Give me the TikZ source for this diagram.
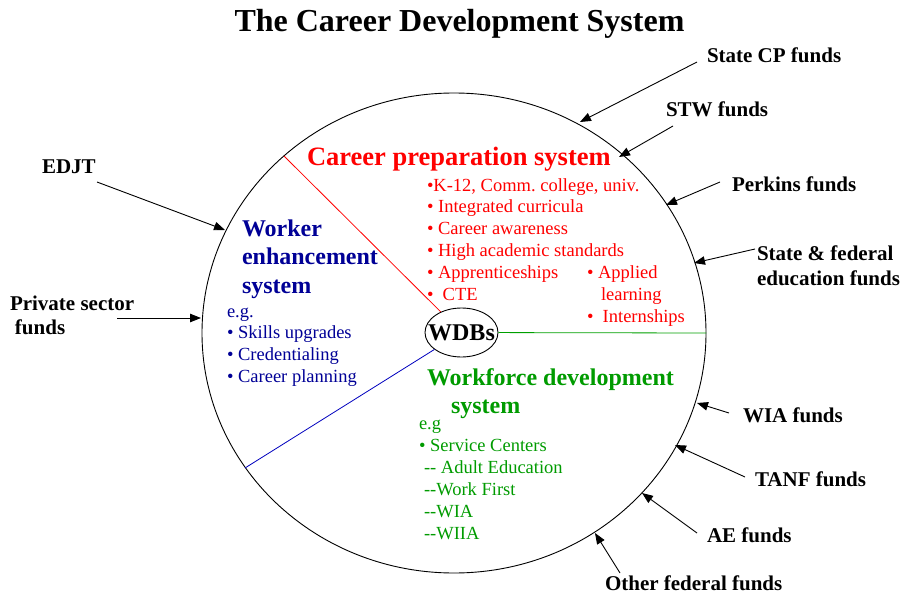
\documentclass[tikz,border=0pt]{standalone}
\usepackage{fontspec}
\setmainfont{Liberation Serif}
\usetikzlibrary{shapes.geometric,arrows.meta}
\frenchspacing
\definecolor{cpred}{RGB}{255,0,0}
\definecolor{wenavy}{RGB}{0,0,150}
\definecolor{wdgreen}{RGB}{0,155,0}
\definecolor{wdline}{RGB}{0,160,0}
\definecolor{weline}{RGB}{0,0,190}
\tikzset{
  txt/.style={anchor=base west, inner sep=0pt, outer sep=0pt},
  fundlabel/.style={txt, font=\fontsize{21}{25}\selectfont\bfseries},
  redhead/.style={txt, text=cpred, font=\fontsize{26.5}{30}\selectfont\bfseries},
  redlist/.style={txt, text=cpred, font=\fontsize{18.5}{22}\selectfont},
  bluehead/.style={txt, text=wenavy, font=\fontsize{24}{28}\selectfont\bfseries},
  bluelist/.style={txt, text=wenavy, font=\fontsize{18.5}{22}\selectfont},
  greenhead/.style={txt, text=wdgreen, font=\fontsize{24}{28}\selectfont\bfseries},
  greenlist/.style={txt, text=wdgreen, font=\fontsize{18.5}{22}\selectfont},
  fundarrow/.style={draw=black, line width=0.9pt, -{Triangle[length=11pt,width=8.5pt]}},
}
\begin{document}
\begin{tikzpicture}[x=1pt,y=-1pt]
\useasboundingbox (0,0) rectangle (903,594);

% title
\node[anchor=base, inner sep=0pt, font=\fontsize{32}{38}\selectfont\bfseries] (title) at (459.5,32) {The Career Development System};

% the system as a whole
\node[ellipse, draw, line width=0.9pt, minimum width=504pt, minimum height=480pt, inner sep=0pt] (sys) at (454,333) {};

% workforce development boards at the hub (text box kept narrow so the ellipse keeps its size)
\node[ellipse, draw, line width=0.9pt, minimum width=73pt, minimum height=49pt, inner sep=0pt,
      font=\fontsize{24}{28}\selectfont\bfseries] (wdb) at (461.5,332.5) {\makebox[0pt][c]{WDBs}};

% dividing lines between the three subsystems
\coordinate (redrim) at (284,156);
\coordinate (bluerim) at (245,468);
\draw[cpred, line width=0.8pt] (redrim) -- (wdb);
\draw[weline, line width=0.8pt] (bluerim) -- (wdb);
\draw[wdline, line width=0.8pt] (wdb) -- (sys.east);

% career preparation system
\node[redhead] (cphead) at (307,165) {Career preparation system};
\node[redlist] (cp1) at (427,191) {•K-12, Comm. college, univ.};
\node[redlist] (cp2) at (427,212.5) {• Integrated curricula};
\node[redlist] (cp3) at (427,234.5) {• Career awareness};
\node[redlist] (cp4) at (427,256.5) {• High academic standards};
\node[redlist] (cp5) at (427,278.5) {• Apprenticeships};
\node[redlist] (cp6) at (427,300.5) {•\ \ CTE};
\node[redlist] (cp7) at (587,278.5) {• Applied};
\node[redlist] (cp8) at (601,300.5) {learning};
\node[redlist] (cp9) at (587,322.5) {•\ \ Internships};

% worker enhancement system
\node[bluehead] (we1) at (242,236) {Worker};
\node[bluehead] (we2) at (242,264.5) {enhancement};
\node[bluehead] (we3) at (242,293) {system};
\node[bluelist] (we4) at (227,317) {e.g.};
\node[bluelist] (we5) at (227,338.5) {• Skills upgrades};
\node[bluelist] (we6) at (227,360.5) {• Credentialing};
\node[bluelist] (we7) at (227,382.5) {• Career planning};

% workforce development system
\node[greenhead] (wd1) at (427,385) {Workforce development};
\node[greenhead] (wd2) at (451,413) {system};
\node[greenlist] (wd3) at (419,429) {e.g};
\node[greenlist] (wd4) at (419,451) {• Service Centers};
\node[greenlist] (wd5) at (424,473) {-{}- Adult Education};
\node[greenlist] (wd6) at (424,495) {-{}-Work First};
\node[greenlist] (wd7) at (424,517) {-{}-WIA};
\node[greenlist] (wd8) at (424,539) {-{}-WIIA};

% funding sources
\node[fundlabel] (fcp) at (707,63) {State CP funds};
\node[fundlabel] (fstw) at (666,117) {STW funds};
\node[fundlabel] (fperk) at (732,191.5) {Perkins funds};
\node[fundlabel] (fsf1) at (757,260.5) {State \& federal};
\node[fundlabel] (fsf2) at (757,285) {education funds};
\node[fundlabel] (fwia) at (743,422.5) {WIA funds};
\node[fundlabel] (ftanf) at (755,486.5) {TANF funds};
\node[fundlabel] (fae) at (707,542.5) {AE funds};
\node[fundlabel] (foth) at (605,590.5) {Other federal funds};
\node[fundlabel] (fedjt) at (42,173) {EDJT};
\node[fundlabel] (fps1) at (10,310) {Private sector};
\node[fundlabel] (fps2) at (15,334) {funds};

% arrow tails and heads
\coordinate (tcp) at (697,62);    \coordinate (hcp) at (580,122);
\coordinate (tstw) at (673,126);  \coordinate (hstw) at (619,157);
\coordinate (tperk) at (720,182); \coordinate (hperk) at (666,205);
\coordinate (tsf) at (755,249);   \coordinate (hsf) at (694,263);
\coordinate (twia) at (729,413);  \coordinate (hwia) at (697,403);
\coordinate (ttanf) at (745,477); \coordinate (htanf) at (675,445);
\coordinate (tae) at (697,533);   \coordinate (hae) at (642,493);
\coordinate (toth) at (620,573);  \coordinate (hoth) at (595,533);
\coordinate (tedjt) at (97,182);  \coordinate (hedjt) at (225,230);
\coordinate (tps) at (117,318);   \coordinate (hps) at (201,318);

\draw[fundarrow] (tcp) -- (hcp);
\draw[fundarrow] (tstw) -- (hstw);
\draw[fundarrow] (tperk) -- (hperk);
\draw[fundarrow] (tsf) -- (hsf);
\draw[fundarrow] (twia) -- (hwia);
\draw[fundarrow] (ttanf) -- (htanf);
\draw[fundarrow] (tae) -- (hae);
\draw[fundarrow] (toth) -- (hoth);
\draw[fundarrow] (tedjt) -- (hedjt);
\draw[fundarrow] (tps) -- (hps);
\end{tikzpicture}
\end{document}
